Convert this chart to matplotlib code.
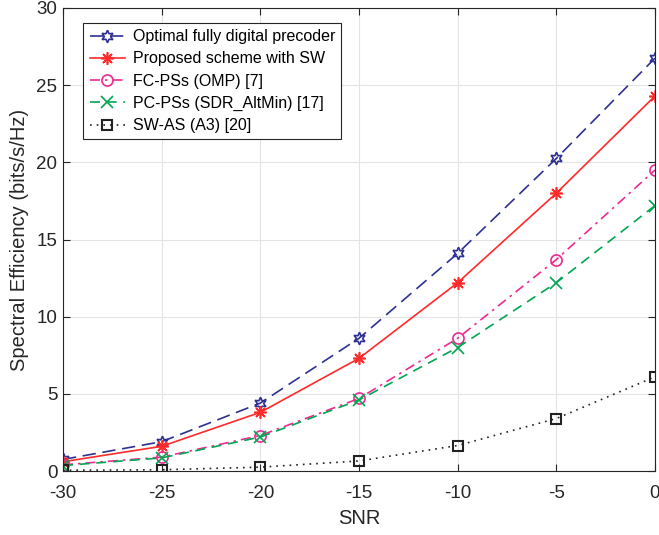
import matplotlib
matplotlib.use('Agg')
import matplotlib.pyplot as plt
import numpy as np

plt.rcParams['font.family'] = ['Liberation Sans', 'DejaVu Sans']

snr = [-30, -25, -20, -15, -10, -5, 0]
optimal = [0.75, 1.9, 4.4, 8.6, 14.1, 20.25, 26.75]
proposed = [0.6, 1.6, 3.8, 7.3, 12.2, 18.0, 24.3]
fc_ps = [0.4, 0.9, 2.3, 4.7, 8.6, 13.7, 19.5]
pc_ps = [0.35, 0.85, 2.2, 4.6, 8.0, 12.2, 17.2]
sw_as = [0.05, 0.08, 0.25, 0.65, 1.65, 3.4, 6.1]

labels = ['Optimal fully digital precoder',
          'Proposed scheme with SW',
          'FC-PSs (OMP) [7]',
          'PC-PSs (SDR_AltMin) [17]',
          'SW-AS (A3) [20]']

fig = plt.figure(figsize=(6.59, 5.35), dpi=100)
ax = fig.add_axes([63 / 659, 1 - 471 / 535, (655 - 63) / 659, (471 - 8) / 535])

ax.plot(snr, optimal, color='#2E3192', ls=(0, (8, 4)), lw=1.2, marker=(6, 1, 0),
        ms=9, mfc='none', mew=1.2, label=labels[0])
ax.plot(snr, proposed, color='#FF2A2A', ls='-', lw=1.2, marker=(8, 2, 0),
        ms=9, mew=1.2, label=labels[1])
ax.plot(snr, fc_ps, color='#EE2A90', ls=(0, (6, 3, 1.5, 3)), lw=1.2, marker='o',
        ms=8, mfc='none', mew=1.2, label=labels[2])
ax.plot(snr, pc_ps, color='#00A651', ls=(0, (6, 4)), lw=1.2, marker='x',
        ms=8, mew=1.2, label=labels[3])
ax.plot(snr, sw_as, color='#222222', ls=(0, (1, 3)), lw=1.2, marker='s',
        ms=7, mfc='none', mew=1.5, label=labels[4])

ax.set_xlim(-30, 0)
ax.set_ylim(0, 30)
ax.set_xticks(snr)
ax.set_xticklabels(['-30', '-25', '-20', '-15', '-10', '-5', '0'])
ax.set_yticks([0, 5, 10, 15, 20, 25, 30])
ax.tick_params(direction='in', labelsize=13.5, colors='#262626', length=5, width=0.8,
               top=True, right=True)
ax.tick_params(axis='x', pad=10)
ax.tick_params(axis='y', pad=4)
ax.grid(True, color='#E3E3E3', lw=0.8)
ax.set_axisbelow(True)
for s in ax.spines.values():
    s.set_color('#262626')
    s.set_linewidth(0.8)

ax.set_xlabel('SNR', fontsize=14.5, color='#262626', labelpad=5)
ax.set_ylabel('Spectral Efficiency (bits/s/Hz)', fontsize=14.5, color='#262626', labelpad=5)

leg = ax.legend(loc='upper left', bbox_to_anchor=(0.034, 0.968), fontsize=11.5,
                fancybox=False, edgecolor='#262626', framealpha=1,
                handlelength=2.2, handletextpad=0.5, labelspacing=0.45,
                borderpad=0.4, borderaxespad=0)
leg.get_frame().set_linewidth(0.8)

fig.savefig('out.png', dpi=100)
